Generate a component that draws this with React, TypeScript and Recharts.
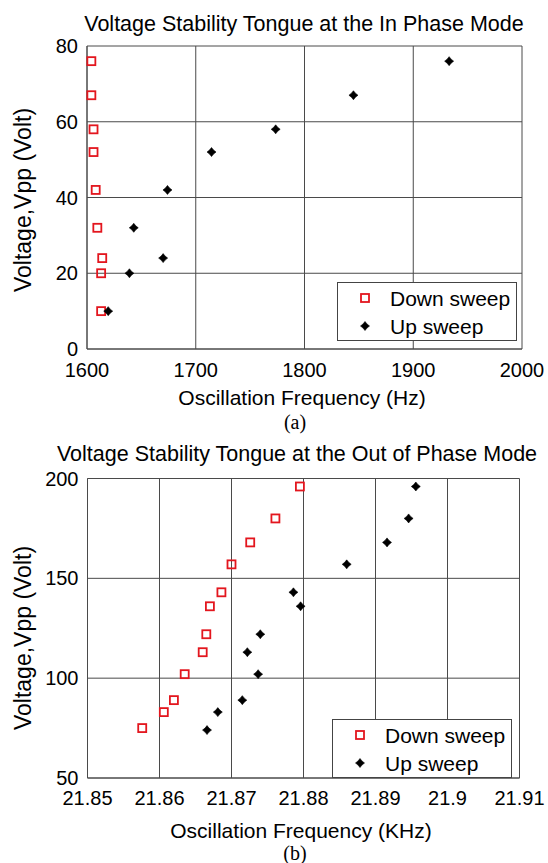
import React from 'react';
import { ScatterChart, Scatter, XAxis, YAxis, CartesianGrid } from 'recharts';

// ---- Chart (a): In Phase Mode ----
const inDownFreq = [1604, 1604, 1606, 1606, 1608, 1609.5, 1614, 1613, 1613];
const inDownVolt = [76, 67, 58, 52, 42, 32, 24, 20, 10];
const inUpFreq = [1619.5, 1639, 1643, 1670, 1674, 1714.5, 1773.5, 1845, 1933];
const inUpVolt = [10, 20, 32, 24, 42, 52, 58, 67, 76];
const inXTicks = [1600, 1700, 1800, 1900, 2000];
const inYTicks = [0, 20, 40, 60, 80];

// ---- Chart (b): Out of Phase Mode ----
const outDownFreq = [21.8576, 21.8606, 21.862, 21.8635, 21.866, 21.8665, 21.867, 21.8686, 21.87, 21.8726, 21.8761, 21.8795];
const outDownVolt = [75, 83, 89, 102, 113, 122, 136, 143, 157, 168, 180, 196];
const outUpFreq = [21.8666, 21.8681, 21.8715, 21.8737, 21.8722, 21.874, 21.8786, 21.8796, 21.886, 21.8916, 21.8946, 21.8956];
const outUpVolt = [74, 83, 89, 102, 113, 122, 143, 136, 157, 168, 180, 196];
const outXTicks = [21.85, 21.86, 21.87, 21.88, 21.89, 21.9, 21.91];
const outYTicks = [50, 100, 150, 200];

const zip = (fs: number[], vs: number[]) => fs.map((f, i) => ({ f, v: vs[i] }));

const FONT = '"Liberation Sans", Arial, Helvetica, sans-serif';
const RED = '#e3161e';
const GRID = '#4a4a4a';

const Square = (p: any) => (
  <rect x={p.cx - 4} y={p.cy - 4} width={8} height={8} fill="none" stroke={RED} strokeWidth={1.8} />
);
const Star = (p: any) => {
  const { cx, cy } = p;
  const r = 4.5;
  const i = 2;
  const d = `M${cx},${cy - r} L${cx + i},${cy - i} L${cx + r},${cy} L${cx + i},${cy + i} L${cx},${cy + r} L${cx - i},${cy + i} L${cx - r},${cy} L${cx - i},${cy - i} Z`;
  return <path d={d} fill="#000" stroke="#000" strokeWidth={0.6} />;
};

const tickStyle = { fill: '#000', fontSize: 20, fontFamily: FONT };

const Legend = ({ left, top }: { left: number; top: number }) => (
  <div
    style={{
      position: 'absolute',
      left,
      top,
      width: 180,
      height: 59,
      border: '1px solid #444',
      background: '#fff',
      boxSizing: 'border-box',
      fontFamily: FONT,
      fontSize: 21,
      color: '#000',
    }}
  >
    <svg width={40} height={59} style={{ position: 'absolute', left: 7, top: 0 }}>
      <Square cx={20} cy={15} />
      <Star cx={20} cy={43} />
    </svg>
    <div style={{ position: 'absolute', left: 52, top: 15, transform: 'translateY(-50%)', lineHeight: 1, whiteSpace: 'nowrap' }}>Down sweep</div>
    <div style={{ position: 'absolute', left: 52, top: 43, transform: 'translateY(-50%)', lineHeight: 1, whiteSpace: 'nowrap' }}>Up sweep</div>
  </div>
);

const Txt = ({ x, y, text, size = 21, rotate = false, serif = false }: any) => (
  <div
    style={{
      position: 'absolute',
      left: x,
      top: y,
      transform: `translate(-50%, -50%)${rotate ? ' rotate(-90deg)' : ''}`,
      fontFamily: serif ? '"Liberation Serif", "Times New Roman", serif' : FONT,
      fontSize: size,
      lineHeight: 1,
      whiteSpace: 'nowrap',
      color: '#000',
    }}
  >
    {text}
  </div>
);

export default function App() {
  return (
    <div style={{ position: 'absolute', left: 0, top: 0, width: 548, height: 863, background: '#fff', overflow: 'hidden' }}>
      <div style={{ position: 'absolute', left: 0, top: 0 }}>
        <ScatterChart width={548} height={400} margin={{ top: 46, right: 26, bottom: 21, left: 27 }}>
          <CartesianGrid stroke={GRID} strokeWidth={1} />
          <XAxis
            dataKey="f"
            type="number"
            domain={[1600, 2000]}
            ticks={inXTicks}
            interval={0}
            height={30}
            tickLine={false}
            tickSize={0}
            tickMargin={14}
            axisLine={{ stroke: GRID }}
            tick={tickStyle}
          />
          <YAxis
            dataKey="v"
            type="number"
            domain={[0, 80]}
            ticks={inYTicks}
            interval={0}
            width={60}
            tickLine={false}
            tickSize={0}
            tickMargin={9}
            axisLine={{ stroke: GRID }}
            tick={tickStyle}
          />
          <Scatter name="Down sweep" data={zip(inDownFreq, inDownVolt)} shape={Square} isAnimationActive={false} />
          <Scatter name="Up sweep" data={zip(inUpFreq, inUpVolt)} shape={Star} isAnimationActive={false} />
        </ScatterChart>
      </div>
      <div style={{ position: 'absolute', left: 0, top: 430 }}>
        <ScatterChart width={548} height={400} margin={{ top: 48.5, right: 28.5, bottom: 22, left: 27.5 }}>
          <CartesianGrid stroke={GRID} strokeWidth={1} />
          <XAxis
            dataKey="f"
            type="number"
            domain={[21.85, 21.91]}
            ticks={outXTicks}
            interval={0}
            allowDataOverflow
            height={30}
            tickLine={false}
            tickSize={0}
            tickMargin={13}
            axisLine={{ stroke: GRID }}
            tick={tickStyle}
            tickFormatter={(t: number) => String(Number(t.toFixed(2)))}
          />
          <YAxis
            dataKey="v"
            type="number"
            domain={[50, 200]}
            ticks={outYTicks}
            interval={0}
            width={60}
            tickLine={false}
            tickSize={0}
            tickMargin={9}
            axisLine={{ stroke: GRID }}
            tick={tickStyle}
          />
          <Scatter name="Down sweep" data={zip(outDownFreq, outDownVolt)} shape={Square} isAnimationActive={false} />
          <Scatter name="Up sweep" data={zip(outUpFreq, outUpVolt)} shape={Star} isAnimationActive={false} />
        </ScatterChart>
      </div>

      <Txt x={304} y={25} text="Voltage Stability Tongue at the In Phase Mode" size={21.5} />
      <Txt x={23} y={200} text="Voltage,Vpp (Volt)" rotate size={23} />
      <Txt x={302} y={397} text="Oscillation Frequency (Hz)" />
      <Txt x={295} y={422} text="(a)" size={20} serif />
      <Legend left={337} top={282} />

      <Txt x={297} y={455} text="Voltage Stability Tongue at the Out of Phase Mode" size={21.5} />
      <Txt x={23} y={638} text="Voltage,Vpp (Volt)" rotate size={23} />
      <Txt x={301} y={830} text="Oscillation Frequency (KHz)" />
      <Txt x={295} y={853} text="(b)" size={20} serif />
      <Legend left={332} top={719} />
    </div>
  );
}
